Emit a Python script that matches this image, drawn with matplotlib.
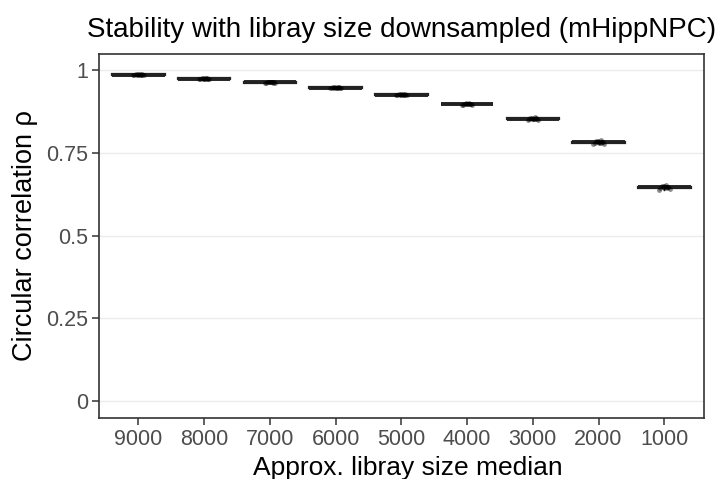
import matplotlib
matplotlib.use("Agg")
import matplotlib.pyplot as plt

plt.rcParams["font.family"] = ["Liberation Sans", "DejaVu Sans"]

# ── Data ──────────────────────────────────────────────────────────────────────
groups = ["9000", "8000", "7000", "6000", "5000", "4000", "3000", "2000", "1000"]

rho = {
    "9000": [0.986, 0.987, 0.988, 0.987, 0.986, 0.988, 0.987, 0.989, 0.986, 0.987, 0.988, 0.987],
    "8000": [0.974, 0.975, 0.976, 0.975, 0.974, 0.976, 0.975, 0.977, 0.974, 0.975, 0.976, 0.975],
    "7000": [0.962, 0.963, 0.964, 0.963, 0.961, 0.964, 0.963, 0.965, 0.962, 0.963, 0.964, 0.962],
    "6000": [0.946, 0.947, 0.948, 0.947, 0.945, 0.948, 0.946, 0.949, 0.945, 0.947, 0.948, 0.946],
    "5000": [0.925, 0.926, 0.927, 0.926, 0.924, 0.927, 0.926, 0.928, 0.924, 0.926, 0.927, 0.925],
    "4000": [0.896, 0.898, 0.899, 0.898, 0.895, 0.899, 0.897, 0.901, 0.895, 0.898, 0.900, 0.897],
    "3000": [0.852, 0.854, 0.855, 0.854, 0.851, 0.856, 0.853, 0.858, 0.850, 0.854, 0.856, 0.853],
    "2000": [0.779, 0.782, 0.784, 0.782, 0.778, 0.785, 0.781, 0.788, 0.777, 0.782, 0.786, 0.780],
    "1000": [0.643, 0.646, 0.648, 0.646, 0.641, 0.649, 0.645, 0.652, 0.639, 0.646, 0.650, 0.644],
}

# small horizontal jitter for the overlaid points
jitter = [-0.06, 0.02, 0.05, -0.02, 0.08, -0.04, 0.0, 0.03, -0.08, 0.06, -0.01, 0.04]

yticks = [0, 0.25, 0.5, 0.75, 1]
ylabels = ["0", "0.25", "0.5", "0.75", "1"]

GRID = "#EBEBEB"
TICK_TXT = "#4D4D4D"

fig = plt.figure(figsize=(7.22, 4.79), dpi=100)
ax = fig.add_axes([0.1371, 0.1280, 0.8376, 0.7599])

positions = list(range(1, len(groups) + 1))
data = [rho[g] for g in groups]

ax.boxplot(data, positions=positions, widths=0.8, whis=1.5,
           patch_artist=True, showfliers=False,
           boxprops=dict(facecolor="white", edgecolor="#222222", lw=1.6),
           medianprops=dict(color="#222222", lw=2.8),
           whiskerprops=dict(color="#222222", lw=1.0),
           capprops=dict(lw=0), zorder=3)

for p, g in zip(positions, groups):
    xs = [p + j for j in jitter]
    ax.scatter(xs, rho[g], s=12, color="black", alpha=0.45, lw=0, zorder=4)

ax.set_xlim(0.4, len(groups) + 0.6)
ax.set_ylim(-0.05, 1.05)
ax.set_xticks(positions)
ax.set_xticklabels(groups)
ax.set_yticks(yticks)
ax.set_yticklabels(ylabels)

ax.grid(axis="y", color=GRID, lw=1.0, zorder=0)
ax.set_axisbelow(True)
for s in ax.spines.values():
    s.set_color("#333333")
    s.set_linewidth(1.2)

ax.tick_params(axis="both", colors="#333333", labelcolor=TICK_TXT,
               labelsize=15.5, length=5, width=1.1, pad=3)

ax.set_xlabel("Approx. libray size median", fontsize=19)
ax.xaxis.set_label_coords(0.51, -0.105)
ax.set_ylabel("Circular correlation ρ", fontsize=19.5, labelpad=6)
ax.set_title("Stability with libray size downsampled (mHippNPC)",
             fontsize=20, pad=12)

fig.savefig("out.png", dpi=100)
